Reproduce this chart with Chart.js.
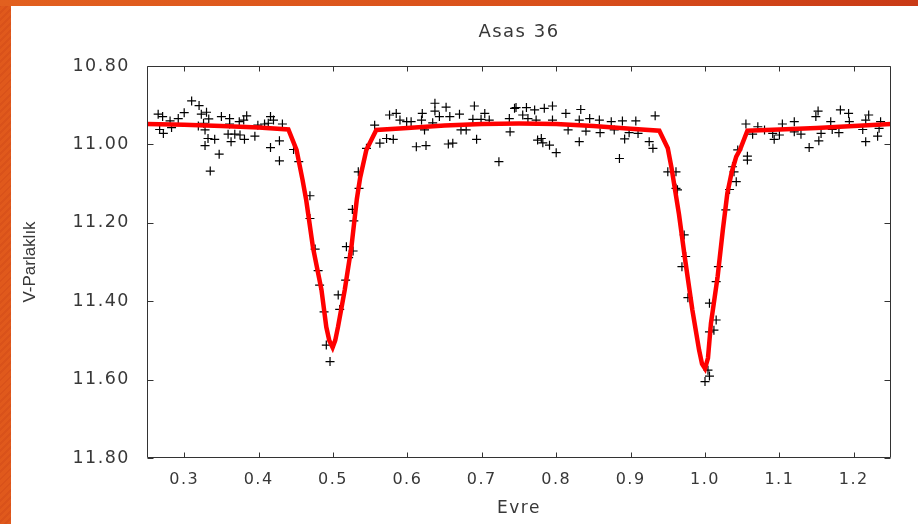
<!DOCTYPE html>
<html>
<head>
<meta charset="utf-8">
<script src="https://cdn.jsdelivr.net/npm/chart.js@4.4.1/dist/chart.umd.min.js"></script>
<style>
  html, body { margin: 0; padding: 0; background: #fff; }
  #wrap { position: relative; width: 918px; height: 524px; overflow: hidden; background: #fff; }
  #c { position: absolute; left: 0; top: 0; }
  #leftStrip { position: absolute; left: 0; top: 0; width: 11px; height: 524px;
    background: repeating-linear-gradient(135deg, #e0591c 0px, #e0591c 3px, #d9521a 3px, #d9521a 5px); }
  #topStrip { position: absolute; left: 0; top: 0; width: 918px; height: 6px;
    background: linear-gradient(90deg, #e2601f 0%, #d9501b 60%, #c93a16 100%); }
</style>
</head>
<body>
<div id="wrap">
  <canvas id="c" width="918" height="524"></canvas>
  <div id="leftStrip"></div>
  <div id="topStrip"></div>
</div>
<script>
// ---- Data ----
const chartTitle = 'Asas 36';
const xAxisTitle = 'Evre';
const yAxisTitle = 'V-Parlaklık';

const xTickValues = [0.3, 0.4, 0.5, 0.6, 0.7, 0.8, 0.9, 1.0, 1.1, 1.2];
const yTickValues = [10.8, 11.0, 11.2, 11.4, 11.6, 11.8];

// Model light curve (red line)
const curvePhase = [0.25, 0.30, 0.35, 0.40, 0.44, 0.451, 0.459, 0.464, 0.473, 0.4845, 0.491, 0.495, 0.4995, 0.503, 0.5068, 0.5158, 0.5248, 0.532, 0.5365, 0.5448, 0.5582,
  0.60, 0.65, 0.70, 0.75, 0.80, 0.85, 0.90, 0.9386, 0.950, 0.955, 0.965, 0.973, 0.983, 0.992, 0.996, 1.000, 1.004, 1.008, 1.017, 1.024, 1.030, 1.036, 1.042, 1.047, 1.057,
  1.10, 1.15, 1.20, 1.25];
const curveMag = [10.948, 10.950, 10.953, 10.957, 10.962, 11.014, 11.090, 11.142, 11.262, 11.371, 11.466, 11.500, 11.518, 11.500, 11.465, 11.371, 11.261, 11.140, 11.085, 11.014, 10.963,
  10.958, 10.952, 10.948, 10.947, 10.948, 10.953, 10.960, 10.965, 11.010, 11.060, 11.178, 11.290, 11.422, 11.524, 11.560, 11.572, 11.545, 11.456, 11.337, 11.218, 11.125, 11.070, 11.031, 11.014, 10.965,
  10.962, 10.958, 10.953, 10.948];

// Observations (black + marks)
const obsPhase = [
  0.265, 0.271, 0.281, 0.292, 0.300, 0.310, 0.320, 0.323, 0.330, 0.333, 0.326, 0.267, 0.272, 0.283, 0.319, 0.328, 0.332, 0.328, 0.341, 0.347,
  0.335, 0.350, 0.361, 0.361, 0.374, 0.384, 0.380, 0.359, 0.363, 0.368, 0.375, 0.381, 0.395, 0.399, 0.408, 0.413, 0.416, 0.420, 0.432, 0.416,
  0.428, 0.428, 0.447, 0.454,
  0.469, 0.469, 0.476, 0.480, 0.482, 0.488, 0.491, 0.496, 0.507, 0.509, 0.517, 0.518, 0.521, 0.527, 0.528, 0.526, 0.535, 0.534, 0.545, 0.556,
  0.563, 0.572, 0.581, 0.576, 0.585, 0.590, 0.599, 0.605, 0.612, 0.619, 0.620, 0.623, 0.625, 0.634, 0.637, 0.637, 0.643, 0.652, 0.657, 0.655,
  0.661, 0.670, 0.672, 0.679, 0.690, 0.688, 0.693, 0.699, 0.704, 0.710, 0.723, 0.737, 0.738, 0.744, 0.746, 0.755, 0.760, 0.762, 0.771, 0.773,
  0.775, 0.780, 0.782, 0.784, 0.791, 0.795, 0.800, 0.795, 0.813, 0.816, 0.831, 0.833, 0.831, 0.840, 0.845, 0.858, 0.859, 0.874, 0.878,
  0.889, 0.892, 0.898, 0.907, 0.910, 0.885, 0.925, 0.930, 0.933, 0.950, 0.961, 0.972,
  0.961, 0.963, 0.974, 0.969, 0.977, 1.006, 1.015, 1.012, 1.006, 1.015, 1.018, 1.042, 1.004, 1.000, 1.006,
  1.028, 1.033, 1.039, 1.037, 1.044, 1.057, 1.057, 1.055, 1.064, 1.071, 1.080, 1.091, 1.093, 1.100, 1.104, 1.120, 1.120, 1.129, 1.140, 1.149,
  1.152, 1.153, 1.156, 1.169, 1.171, 1.180, 1.182, 1.193, 1.194, 1.212, 1.216, 1.220, 1.216, 1.232, 1.234, 1.236
];
const obsMag = [
  10.923, 10.929, 10.940, 10.934, 10.919, 10.889, 10.901, 10.923, 10.918, 10.935, 10.946, 10.962, 10.972, 10.957, 10.953, 10.963, 10.985, 11.003, 10.987, 11.025,
  11.068, 10.929, 10.934, 10.948, 10.942, 10.927, 10.938, 10.974, 10.993, 10.974, 10.976, 10.987, 10.979, 10.951, 10.948, 10.946, 10.929, 10.938, 10.948, 11.008,
  10.991, 11.042, 11.013, 11.044,
  11.131, 11.189, 11.267, 11.322, 11.359, 11.427, 11.512, 11.554, 11.384, 11.421, 11.346, 11.261, 11.289, 11.272, 11.195, 11.166, 11.112, 11.070, 11.010, 10.951,
  10.997, 10.985, 10.987, 10.925, 10.921, 10.938, 10.942, 10.942, 11.006, 10.938, 10.921, 10.963, 11.003, 10.945, 10.895, 10.915, 10.929, 10.905, 10.929, 10.999,
  10.997, 10.923, 10.963, 10.963, 10.902, 10.936, 10.987, 10.936, 10.921, 10.938, 11.044, 10.934, 10.968, 10.908, 10.906, 10.925, 10.906, 10.934, 10.912, 10.938,
  10.989, 10.985, 10.996, 10.908, 11.002, 10.902, 11.021, 10.938, 10.921, 10.963, 10.938, 10.911, 10.993, 10.966, 10.934, 10.938, 10.970, 10.942, 10.963,
  10.940, 10.986, 10.970, 10.940, 10.972, 11.036, 10.993, 11.010, 10.927, 11.070, 11.112, 11.231,
  11.070, 11.116, 11.286, 11.312, 11.391, 11.405, 11.448, 11.474, 11.478, 11.350, 11.312, 11.095, 11.576, 11.605, 11.591,
  11.167, 11.115, 11.070, 11.057, 11.014, 11.030, 11.040, 10.948, 10.974, 10.955, 10.963, 10.972, 10.987, 10.976, 10.948, 10.942, 10.968, 10.974, 11.008, 10.929,
  10.915, 10.991, 10.972, 10.942, 10.962, 10.970, 10.912, 10.921, 10.942, 10.962, 10.938, 10.925, 10.993, 10.979, 10.959, 10.942
];

// ---- Build datasets from the arrays ----
const curveData = curvePhase.map((p, i) => ({ x: p, y: curveMag[i] }));
const obsData = obsPhase.map((p, i) => ({ x: p, y: obsMag[i] }));

const LS = '1.5px';
const textColor = '#383838';

function patchYTitle(c) {
  const s = c.scales && c.scales.y;
  if (s && !s._lsPatched) {
    const orig = s.drawTitle.bind(s);
    s.drawTitle = function () {
      const ctx = this.ctx;
      const prev = ctx.letterSpacing;
      ctx.letterSpacing = '0px';
      orig();
      ctx.letterSpacing = prev;
    };
    s._lsPatched = true;
  }
}

const letterSpacingPlugin = {
  id: 'letterSpacing',
  beforeInit(c) { c.ctx.letterSpacing = LS; },
  beforeUpdate(c) { c.ctx.letterSpacing = LS; },
  beforeLayout(c) { c.ctx.letterSpacing = LS; },
  beforeDraw(c) { c.ctx.letterSpacing = LS; patchYTitle(c); }
};

const framePlugin = {
  id: 'frame',
  afterDraw(c) {
    const ctx = c.ctx;
    const a = c.chartArea;
    const xs = c.scales.x, ys = c.scales.y;
    ctx.save();
    ctx.strokeStyle = '#333';
    ctx.lineWidth = 1;
    ctx.beginPath();
    const L = Math.round(a.left) + 0.5, R = Math.round(a.right) - 0.5;
    const T = Math.round(a.top) + 0.5, B = Math.round(a.bottom) - 0.5;
    ctx.rect(L, T, R - L, B - T);
    xs.ticks.forEach(t => {
      const px = Math.round(xs.getPixelForValue(t.value)) + 0.5;
      ctx.moveTo(px, B); ctx.lineTo(px, B - 5);
      ctx.moveTo(px, T); ctx.lineTo(px, T + 5);
    });
    ys.ticks.forEach(t => {
      const py = Math.round(ys.getPixelForValue(t.value)) + 0.5;
      ctx.moveTo(L, py); ctx.lineTo(L + 6, py);
      ctx.moveTo(R, py); ctx.lineTo(R - 6, py);
    });
    ctx.stroke();
    ctx.restore();
  }
};

new Chart(document.getElementById('c'), {
  type: 'scatter',
  data: {
    datasets: [
      {
        label: 'Model',
        type: 'line',
        data: curveData,
        borderColor: '#ff0000',
        borderWidth: 4.5,
        pointRadius: 0,
        tension: 0,
        fill: false,
        order: 0
      },
      {
        label: 'Gözlem',
        data: obsData,
        pointStyle: 'cross',
        pointRadius: 4.5,
        pointHoverRadius: 4.5,
        borderColor: '#000',
        backgroundColor: '#000',
        borderWidth: 1.2,
        order: 1
      }
    ]
  },
  options: {
    responsive: false,
    animation: false,
    devicePixelRatio: 1,
    layout: { padding: { left: 0, right: 27, top: 0, bottom: 0 } },
    plugins: {
      legend: { display: false },
      tooltip: { enabled: false },
      title: {
        display: true,
        text: chartTitle,
        fullSize: false,
        color: textColor,
        font: { family: 'DejaVu Sans', size: 18, weight: 'normal' },
        padding: { top: 22, bottom: 22.4 }
      }
    },
    scales: {
      x: {
        type: 'linear',
        min: 0.25,
        max: 1.25,
        grid: { display: false, drawTicks: false },
        border: { display: false },
        afterBuildTicks: (s) => { s.ticks = xTickValues.map(v => ({ value: v })); },
        afterFit: (s) => { s.height = 66; },
        ticks: {
          color: textColor,
          font: { family: 'DejaVu Sans', size: 16 },
          padding: 12,
          maxRotation: 0,
          autoSkip: false,
          callback: (v) => Number(v).toFixed(1)
        },
        title: {
          display: true,
          text: xAxisTitle,
          color: textColor,
          font: { family: 'DejaVu Sans', size: 17 },
          padding: { top: 0, bottom: 5 }
        }
      },
      y: {
        type: 'linear',
        reverse: true,
        min: 10.8,
        max: 11.8,
        grid: { display: false, drawTicks: false },
        border: { display: false },
        afterBuildTicks: (s) => { s.ticks = yTickValues.map(v => ({ value: v })); },
        afterFit: (s) => { s.width = 147; },
        ticks: {
          color: textColor,
          font: { family: 'DejaVu Sans', size: 17.5 },
          padding: 17,
          autoSkip: false,
          callback: (v) => Number(v).toFixed(2)
        },
        title: {
          display: true,
          text: yAxisTitle,
          color: textColor,
          font: { family: 'Liberation Sans', size: 17 },
          padding: { top: 20, bottom: 0 }
        }
      }
    }
  },
  plugins: [letterSpacingPlugin, framePlugin]
});
</script>
</body>
</html>
